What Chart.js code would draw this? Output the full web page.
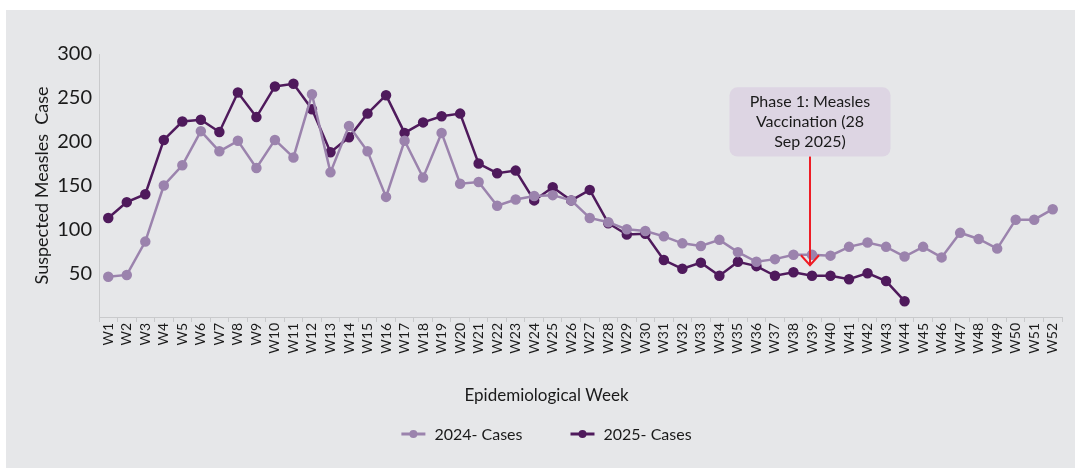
<!DOCTYPE html>
<html>
<head>
<meta charset="utf-8">
<script src="https://cdn.jsdelivr.net/npm/chart.js@4/dist/chart.umd.min.js"></script>
<style>
    body { margin: 0; background: #ffffff; }
    #wrap { position: absolute; left: 6px; top: 10px; width: 1069px; height: 458px; background: #e6e7e9; }
</style>
</head>
<body>
<div id="wrap"><canvas id="measlesChart"></canvas></div>
<script>
"use strict";

// weekly suspected measles cases
let weeks = [];
for (let i = 1; i <= 52; i++) weeks.push("W" + i);

let cases2024 = [46, 48, 86, 150, 173, 212, 189, 201, 170, 202, 182, 254, 165, 218, 189, 137,
    201, 159, 210, 152, 154, 127, 134, 138, 139, 133, 113, 108, 100, 98, 92, 84,
    81, 88, 74, 63, 66, 71, 71, 70, 80, 85, 80, 69, 80, 68, 96, 89, 78, 111, 111, 123];

let cases2025 = [113, 131, 140, 202, 223, 225, 211, 256, 228, 263, 266, 237, 188, 205, 232, 253,
    210, 222, 229, 232, 175, 164, 167, 133, 148, 133, 145, 107, 94, 95, 65, 55,
    62, 47, 63, 58, 47, 51, 47, 47, 43, 50, 41, 18];

let yTicks = [0, 50, 100, 150, 200, 250, 300];

// vaccination campaign note
let noteLines = ["Phase 1: Measles", "Vaccination (28", "Sep 2025)"];
let noteWeek = "W39";

const xTitle = "Epidemiological Week";

const color2024 = "#9b83ad";
const color2025 = "#4f1a5c";
const textColor = "#1a1a1a";
const fontName = "Lato, 'Open Sans', sans-serif";

// red arrow + rounded box pointing at the campaign week
const notePlugin = {
    id: "noteBox",
    afterDatasetsDraw(chart) {
        const ctx = chart.ctx;
        const xs = chart.scales.x, ys = chart.scales.y;
        const x = xs.getPixelForValue(weeks.indexOf(noteWeek)) - 2;
        const boxTop = ys.getPixelForValue(262);
        const boxBottom = ys.getPixelForValue(183);
        const tip = ys.getPixelForValue(59);
        const w = 161;

        ctx.save();
        ctx.fillStyle = "#ddd5e3";
        ctx.beginPath();
        ctx.roundRect(x - w / 2, boxTop, w, boxBottom - boxTop, 8);
        ctx.fill();

        ctx.fillStyle = textColor;
        ctx.font = "16px " + fontName;
        ctx.textAlign = "center";
        ctx.textBaseline = "middle";
        const mid = (boxTop + boxBottom) / 2;
        noteLines.forEach((t, i) => ctx.fillText(t, x, mid + (i - 1) * 20));

        ctx.strokeStyle = "#ee1c25";
        ctx.lineWidth = 2;
        ctx.beginPath();
        ctx.moveTo(x, boxBottom);
        ctx.lineTo(x, tip);
        ctx.stroke();
        ctx.beginPath();
        ctx.moveTo(x - 9, tip - 10);
        ctx.lineTo(x, tip);
        ctx.lineTo(x + 9, tip - 10);
        ctx.stroke();
        ctx.restore();
    }
};

// axis title and legend row below the week labels
const bottomPlugin = {
    id: "bottomText",
    afterDraw(chart) {
        const ctx = chart.ctx;
        const cx = chart.width / 2 + 6;
        ctx.save();
        ctx.fillStyle = textColor;
        ctx.textBaseline = "middle";
        ctx.textAlign = "center";
        ctx.font = "17px " + fontName;
        ctx.fillText(xTitle, cx, chart.height - 72);

        const y = chart.height - 34;
        const markW = 24, gap = 9, itemGap = 48;
        ctx.font = "16px " + fontName;
        const items = chart.data.datasets.map(ds => ({
            text: ds.label,
            color: ds.borderColor,
            w: markW + gap + ctx.measureText(ds.label).width
        }));
        const total = items.reduce((s, it) => s + it.w, 0) + itemGap * (items.length - 1);
        let x = cx - total / 2;
        items.forEach(it => {
            ctx.strokeStyle = it.color;
            ctx.lineWidth = 3;
            ctx.beginPath();
            ctx.moveTo(x, y);
            ctx.lineTo(x + markW, y);
            ctx.stroke();
            ctx.fillStyle = it.color;
            ctx.beginPath();
            ctx.arc(x + markW / 2, y, 4, 0, Math.PI * 2);
            ctx.fill();
            ctx.fillStyle = textColor;
            ctx.textAlign = "left";
            ctx.fillText(it.text, x + markW + gap, y + 1);
            x += it.w + itemGap;
        });
        ctx.restore();
    }
};

const data = {
    labels: weeks,
    datasets: [{
        label: "2024- Cases",
        data: cases2024,
        borderColor: color2024,
        backgroundColor: color2024,
        borderWidth: 2.5,
        pointRadius: 4,
        tension: 0
    }, {
        label: "2025- Cases",
        data: cases2025,
        borderColor: color2025,
        backgroundColor: color2025,
        borderWidth: 2.5,
        pointRadius: 4,
        tension: 0
    }]
};

const config = {
    type: "line",
    data: data,
    options: {
        responsive: true,
        maintainAspectRatio: false,
        animation: false,
        layout: { padding: { top: 44, right: 13, left: 25, bottom: 63 } },
        plugins: {
            tooltip: { enabled: false },
            legend: { display: false }
        },
        scales: {
            x: {
                offset: true,
                grid: { offset: true, drawOnChartArea: false, tickLength: 5, color: "#c9cacc" },
                border: { color: "#c9cacc" },
                ticks: {
                    minRotation: 90,
                    maxRotation: 90,
                    autoSkip: false,
                    padding: 1,
                    color: textColor,
                    font: { family: fontName, size: 14 }
                },
                afterFit(scale) { scale.height = 88; }
            },
            y: {
                min: 0,
                max: 300,
                afterBuildTicks(scale) { scale.ticks = yTicks.map(v => ({ value: v })); },
                grid: { drawOnChartArea: false, drawTicks: false },
                border: { color: "#c9cacc" },
                ticks: {
                    padding: 7,
                    color: textColor,
                    font: { family: fontName, size: 20 },
                    callback: v => (v === 0 ? "" : v)
                },
                title: {
                    display: true,
                    text: "Suspected Measles  Case",
                    color: textColor,
                    font: { family: fontName, size: 18 },
                    padding: 0
                },
                afterFit(scale) { scale.width = 68; }
            }
        }
    },
    plugins: [notePlugin, bottomPlugin]
};

new Chart(document.getElementById("measlesChart"), config);
</script>
</body>
</html>
